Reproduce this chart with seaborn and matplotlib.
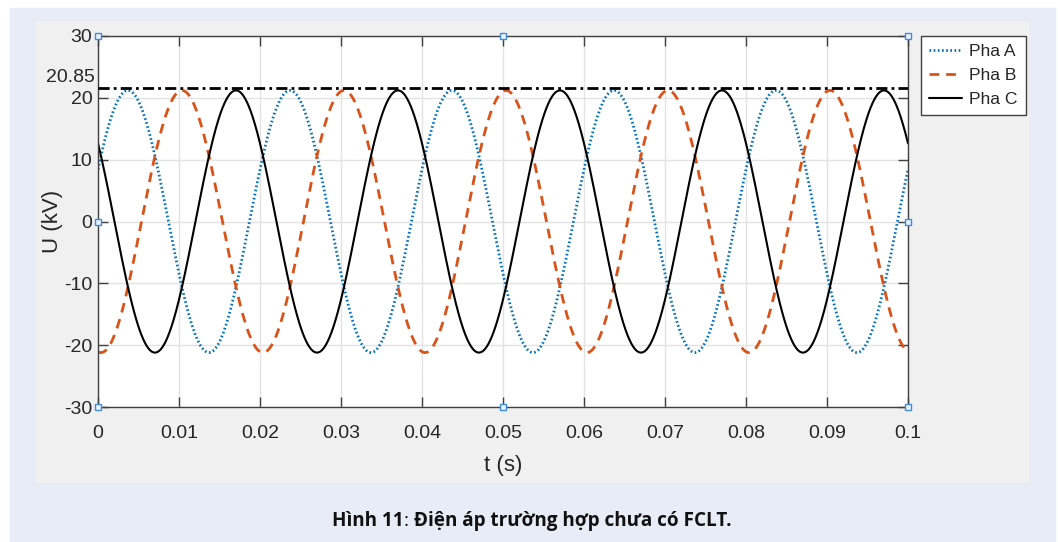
import numpy as np
import pandas as pd
import matplotlib
matplotlib.use("Agg")
import matplotlib.pyplot as plt
from matplotlib.patches import Rectangle
import seaborn as sns

# ── Data ─────────────────────────────────────────────────────────
PHASES = ["Pha A", "Pha B", "Pha C"]
AMPLITUDE_KV = 21.2          # peak of each phase
FREQ_HZ = 50.0
PHASE_DEG = [23.4, -96.6, 143.4]
T_START, T_END = 0.0, 0.1
PEAK_LINE_KV = 21.6
PEAK_LABEL = "20.85"

X_TICKS = [0, 0.01, 0.02, 0.03, 0.04, 0.05, 0.06, 0.07, 0.08, 0.09, 0.1]
X_TICK_LABELS = ["0", "0.01", "0.02", "0.03", "0.04", "0.05", "0.06",
                 "0.07", "0.08", "0.09", "0.1"]
Y_TICKS = [-30, -20, -10, 0, 10, 20, 30]
HANDLE_X = [0, 0.05, 0.1, 0, 0.1, 0, 0.05, 0.1]
HANDLE_Y = [30, 30, 30, 0, 0, -30, -30, -30]

COLORS = {"Pha A": "#0072BD", "Pha B": "#D95319", "Pha C": "#000000"}
STYLES = {"Pha A": (0, (0.6, 0.9)), "Pha B": (0, (3.5, 2.5)), "Pha C": "-"}
WIDTHS = {"Pha A": 2.0, "Pha B": 2.0, "Pha C": 1.5}

t = np.linspace(T_START, T_END, 2001)
frames = []
for name, ph in zip(PHASES, PHASE_DEG):
    u = AMPLITUDE_KV * np.sin(2 * np.pi * FREQ_HZ * t + np.deg2rad(ph))
    frames.append(pd.DataFrame({"t": t, "u": u, "phase": name}))
df = pd.concat(frames, ignore_index=True)

# ── Style ────────────────────────────────────────────────────────
sns.set_theme(style="white")
plt.rcParams["font.family"] = ["Liberation Sans", "DejaVu Sans"]
plt.rcParams["axes.unicode_minus"] = False

W, H = 1058, 542
fig = plt.figure(figsize=(W / 100, H / 100), dpi=100)
fig.patch.set_facecolor("white")
fig.patches.append(Rectangle((10 / W, 0), 1045 / W, 1 - 8 / H,
                             transform=fig.transFigure, color="#E8ECF7", zorder=-3))
fig.patches.append(Rectangle((36 / W, 1 - 482 / H), 992 / W, 461 / H,
                             transform=fig.transFigure, color="#F0F0F0", zorder=-2))

ax = fig.add_axes([98 / W, 1 - 407 / H, 810 / W, 371 / H])
ax.set_facecolor("white")

for name in PHASES:
    sub = df[df["phase"] == name]
    sns.lineplot(data=sub, x="t", y="u", ax=ax, color=COLORS[name],
                 linestyle=STYLES[name], linewidth=WIDTHS[name], label=name)

# peak reference line
ax.plot([T_START, T_END], [PEAK_LINE_KV, PEAK_LINE_KV], color="black",
        linestyle=(0, (4, 1.5, 1, 1.5)), linewidth=2.0, zorder=4)
ax.annotate(PEAK_LABEL, xy=(T_START, PEAK_LINE_KV), xycoords="data",
            xytext=(-3, 10), textcoords="offset pixels", ha="right", va="center",
            fontsize=14, color="#262626", annotation_clip=False)

ax.set_xlim(T_START, T_END)
ax.set_ylim(-30, 30)
ax.set_xticks(X_TICKS)
ax.set_xticklabels(X_TICK_LABELS)
ax.set_yticks(Y_TICKS)
ax.grid(True, color="#E3E3E3", linewidth=1.0)
ax.set_axisbelow(True)
ax.tick_params(direction="in", length=7, width=1, color="#404040",
               labelsize=14, labelcolor="#262626", top=True, right=True,
               bottom=True, left=True)
ax.tick_params(axis="x", pad=13)
ax.tick_params(axis="y", pad=4)
for s in ax.spines.values():
    s.set_visible(True)
    s.set_color("#404040")
    s.set_linewidth(1.0)

ax.set_xlabel("t (s)", fontsize=16, color="#262626", labelpad=9)
ax.set_ylabel("U (kV)", fontsize=16, color="#262626", labelpad=1)

# MATLAB selection handles
ax.plot(HANDLE_X, HANDLE_Y, linestyle="none", marker="s", markersize=5,
        markerfacecolor="#EAF2FB", markeredgecolor="#3E8EDE", markeredgewidth=1,
        clip_on=False, zorder=6)

handles, labels = ax.get_legend_handles_labels()
ax.get_legend().remove()
leg = fig.legend(handles[:3], labels[:3], loc="upper left",
                 bbox_to_anchor=(921 / W, 1 - 36 / H), bbox_transform=fig.transFigure,
                 fontsize=12.6, frameon=True, fancybox=False, framealpha=1,
                 edgecolor="#404040", borderaxespad=0, borderpad=0.45,
                 handlelength=1.9, handletextpad=0.4, labelspacing=0.5)
leg.get_frame().set_linewidth(1.0)
for text in leg.get_texts():
    text.set_color("#262626")

# caption with mixed weights
renderer = fig.canvas.get_renderer()
pieces = [("Hình 11", "bold"), (": ", "normal"), ("Điện áp trường hợp chưa có FCLT.", "bold")]
objs = []
for s, wgt in pieces:
    objs.append(fig.text(0, 1 - 521 / H, s, fontsize=13.6, fontweight=wgt,
                         family=["Open Sans", "DejaVu Sans"], color="#111111",
                         va="center", ha="left"))
widths = [o.get_window_extent(renderer).width for o in objs]
x = 532 - sum(widths) / 2
for o, w in zip(objs, widths):
    o.set_x(x / W)
    x += w

fig.savefig("out.png", dpi=100)
